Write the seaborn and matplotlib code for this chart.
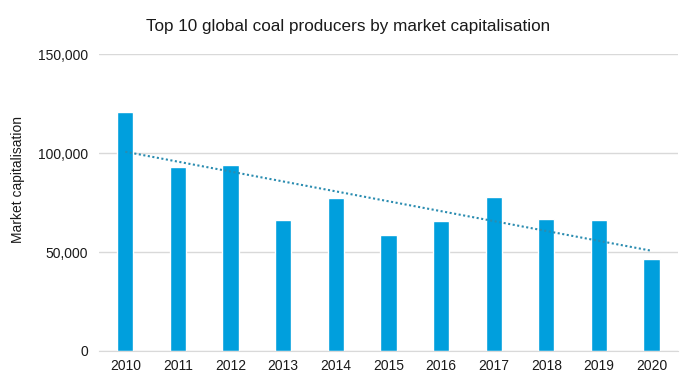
import numpy as np
import pandas as pd
import seaborn as sns
import matplotlib.pyplot as plt
from matplotlib.ticker import FuncFormatter

years = ['2010', '2011', '2012', '2013', '2014', '2015',
         '2016', '2017', '2018', '2019', '2020']
market_cap = [120700, 93000, 93900, 66300, 77500, 58600,
              65500, 77700, 66500, 66000, 46500]

df = pd.DataFrame({'year': years, 'cap': market_cap})

sns.set_style('white')
plt.rcParams['font.family'] = ['Liberation Sans', 'DejaVu Sans']

fig = plt.figure(figsize=(7, 3.84), dpi=100)
ax = fig.add_axes([0.1414, 0.086, 0.827, 0.773])

sns.barplot(data=df, x='year', y='cap', color='#009FDD', saturation=1,
            width=0.31, ax=ax, zorder=2)

# linear trendline, like the spreadsheet one
xpos = np.arange(len(years))
k, b = np.polyfit(xpos, market_cap, 1)
ax.plot(xpos, k * xpos + b, linestyle=(0, (1, 1.2)), color='#2A8CB0',
        linewidth=1.5, zorder=3)

ax.set_xlim(-0.5, len(years) - 0.5)
ax.set_ylim(0, 150000)
ax.set_yticks([0, 50000, 100000, 150000])
ax.yaxis.set_major_formatter(FuncFormatter(lambda v, p: f'{int(v):,}'))
ax.grid(axis='y', color='#D9D9D9', linewidth=1, zorder=0)
ax.set_axisbelow(True)
for s in ['top', 'right', 'left']:
    ax.spines[s].set_visible(False)
ax.spines['bottom'].set_color('#D9D9D9')
ax.tick_params(axis='both', length=0, labelsize=10, colors='#1a1a1a', pad=8)
ax.tick_params(axis='x', pad=6)

ax.set_xlabel('')
ax.set_ylabel('Market capitalisation', fontsize=10, color='#1a1a1a')
ax.yaxis.set_label_coords(-0.127, 0.577)
fig.text(0.497, 0.93, 'Top 10 global coal producers by market capitalisation',
         ha='center', va='center', fontsize=12.3, color='#1a1a1a')

fig.savefig('out.png', dpi=100)
